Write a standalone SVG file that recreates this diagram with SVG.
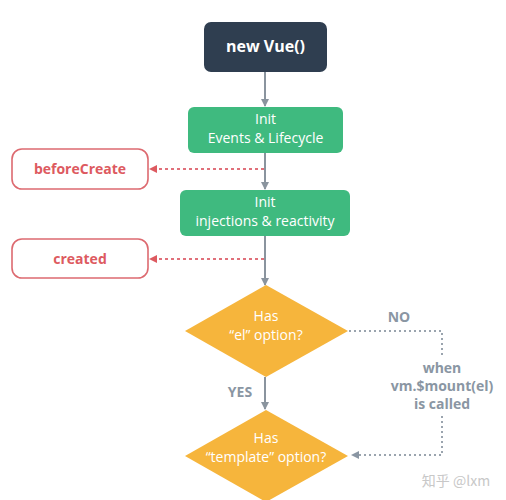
<svg xmlns="http://www.w3.org/2000/svg" width="506" height="500" viewBox="0 0 506 500">
<style>
text{font-family:"Open Sans","DejaVu Sans",sans-serif;text-anchor:middle}
.w{fill:#fff;font-size:14px}
.b{font-weight:bold}
.red{fill:#dd5a60;font-size:14px;font-weight:bold}
.gl{fill:#8a96a3;font-size:14px;font-weight:bold}
.solid{stroke:#8a949e;stroke-width:2;fill:none}
.rdash{stroke:#e0707a;stroke-width:2;fill:none;stroke-dasharray:3 3}
.gdash{stroke:#9aa4ae;stroke-width:2;fill:none;stroke-dasharray:2 3}
.hook{fill:#fff;stroke:#dd6a70;stroke-width:1.6}
.init{fill:#3fba7f}
.dia{fill:#f6b53c}
</style>
<defs>
<marker id="ag" markerWidth="8" markerHeight="8" refX="7" refY="4" orient="auto" markerUnits="userSpaceOnUse"><path d="M0,0 L8,4 L0,8 Z" fill="#8a949e"/></marker>
<marker id="ar" markerWidth="8" markerHeight="8" refX="7" refY="4" orient="auto" markerUnits="userSpaceOnUse"><path d="M0,0 L8,4 L0,8 Z" fill="#dd5a60"/></marker>
<marker id="ad" markerWidth="8" markerHeight="8" refX="7" refY="4" orient="auto" markerUnits="userSpaceOnUse"><path d="M0,0 L8,4 L0,8 Z" fill="#8a96a3"/></marker>
</defs>
<rect width="506" height="500" fill="#fff"/>
<g id="connectors">
<line class="solid" x1="265" y1="72" x2="265" y2="106" marker-end="url(#ag)"/>
<line class="solid" x1="265" y1="153" x2="265" y2="189" marker-end="url(#ag)"/>
<line class="solid" x1="265" y1="236" x2="265" y2="285" marker-end="url(#ag)"/>
<line class="solid" x1="265" y1="377" x2="265" y2="409" marker-end="url(#ag)"/>
<line class="rdash" x1="264" y1="169" x2="150" y2="169" marker-end="url(#ar)"/>
<line class="rdash" x1="264" y1="259" x2="150" y2="259" marker-end="url(#ar)"/>
<polyline class="gdash" points="349,331 442,331 442,358"/>
<polyline class="gdash" points="442,416 442,455 352,455" marker-end="url(#ad)"/>
<text class="gl" x="399" y="322">NO</text>
<text class="gl" x="240" y="397">YES</text>
<text class="gl" x="442" y="373">when</text>
<text class="gl" x="442" y="391">vm.$mount(el)</text>
<text class="gl" x="442" y="409">is called</text>
</g>
<g id="newVue">
<rect x="204" y="22" width="123" height="50" rx="7" fill="#2f3e50"/>
<text class="w b" x="265.5" y="52" style="font-size:16px">new Vue()</text>
</g>
<g id="initEvents">
<rect class="init" x="188" y="107" width="155" height="46" rx="6"/>
<text class="w" x="265.5" y="124">Init</text>
<text class="w" x="265.5" y="143">Events &amp; Lifecycle</text>
</g>
<g id="beforeCreate">
<rect class="hook" x="12" y="149" width="136" height="40" rx="10"/>
<text class="red" x="80" y="174">beforeCreate</text>
</g>
<g id="initInjections">
<rect class="init" x="180" y="190" width="170" height="46" rx="6"/>
<text class="w" x="265" y="207">Init</text>
<text class="w" x="265" y="226">injections &amp; reactivity</text>
</g>
<g id="created">
<rect class="hook" x="12" y="239" width="136" height="39" rx="10"/>
<text class="red" x="80" y="264">created</text>
</g>
<g id="hasEl">
<polygon class="dia" points="266,285 348,331 266,377 185,331"/>
<text class="w" x="266" y="321">Has</text>
<text class="w" x="266" y="340">“el” option?</text>
</g>
<g id="hasTemplate">
<polygon class="dia" points="266,410 348,456 266,502 185,456"/>
<text class="w" x="266" y="443">Has</text>
<text class="w" x="266" y="462">“template” option?</text>
</g>
<text x="456" y="486" style="font-family:'Noto Sans CJK SC','Open Sans',sans-serif;font-size:14px;fill:#c8c8c8">知乎 @lxm</text>
</svg>
